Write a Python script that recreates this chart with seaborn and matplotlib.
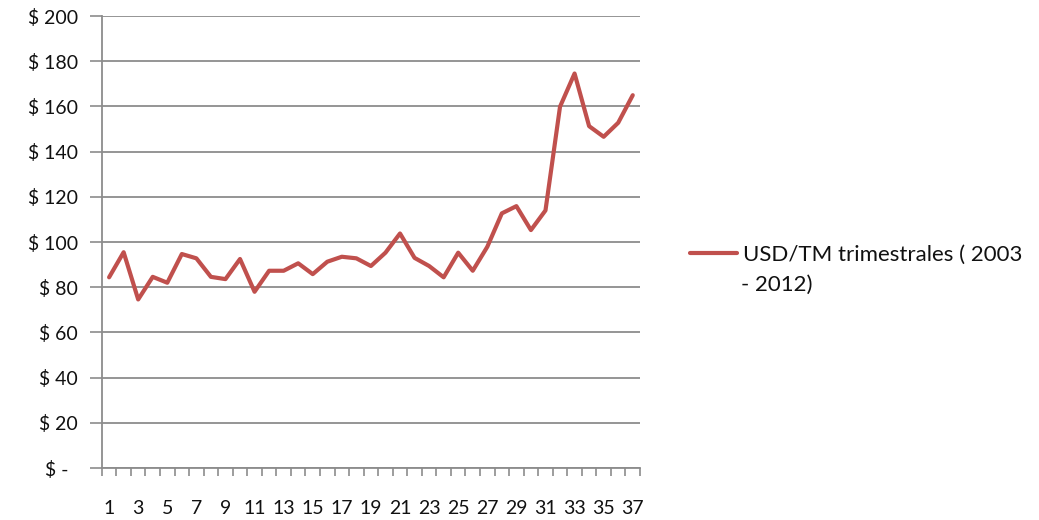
import matplotlib
matplotlib.use("Agg")
import matplotlib.pyplot as plt
import seaborn as sns
import numpy as np
from matplotlib.ticker import FixedLocator, FuncFormatter

# quarterly price, USD per metric ton (2003 - 2012)
quarters = list(range(1, 38))
prices = [84.4, 95.5, 74.6, 84.6, 82.0, 94.7, 92.8, 84.6, 83.6, 92.5,
          78.0, 87.3, 87.3, 90.6, 85.8, 91.3, 93.5, 92.8, 89.4, 95.3,
          103.8, 93.0, 89.4, 84.4, 95.3, 87.3, 97.9, 112.7, 115.9, 105.3,
          114.0, 159.9, 174.6, 151.3, 146.6, 152.8, 165.0]
y_ticks = list(range(0, 201, 20))
series_label = "USD/TM trimestrales ( 2003"
series_label_2 = "- 2012)"

sns.set_theme(style="white")
plt.rcParams['font.family'] = ['Lato', 'DejaVu Sans']

line_color = "#C0504D"
grid_color = "#8C8C8C"
text_color = "#111111"

fig = plt.figure(figsize=(10.39, 5.2), dpi=100)
ax = fig.add_axes([0.098, 0.1, 0.518, 0.869])

sns.lineplot(x=quarters, y=prices, ax=ax, color=line_color, linewidth=3.0,
             label=series_label, legend=False)

ax.set_xlim(0.5, 37.5)
ax.set_ylim(0, 200)

ax.yaxis.set_major_locator(FixedLocator(y_ticks))
ax.yaxis.set_major_formatter(FuncFormatter(lambda v, p: "$ -  " if v == 0 else f"$ {int(v)}"))
ax.grid(axis="y", color=grid_color, linewidth=1.3)
ax.set_axisbelow(True)

# labels on odd quarters, tick marks between categories
ax.xaxis.set_major_locator(FixedLocator(quarters[::2]))
ax.xaxis.set_minor_locator(FixedLocator(np.arange(0.5, 38, 1)))
ax.tick_params(which="both", left=True, bottom=True)
ax.tick_params(axis="x", which="major", length=0, pad=23, labelsize=14)
ax.tick_params(axis="x", which="minor", length=6, width=1.2, color=grid_color, direction="out")
ax.tick_params(axis="y", which="major", length=9, width=1.2, color=grid_color, pad=8,
               labelsize=14, direction="out")
ax.tick_params(axis="both", labelcolor=text_color)

for side in ["top", "right"]:
    ax.spines[side].set_visible(False)
for side in ["left", "bottom"]:
    ax.spines[side].set_color(grid_color)
    ax.spines[side].set_linewidth(1.3)

leg = fig.legend(loc="center left", bbox_to_anchor=(0.645, 0.51), frameon=False,
                 fontsize=16, handlelength=2.1, handletextpad=0.3)
for t in leg.get_texts():
    t.set_color(text_color)
fig.text(0.713, 0.452, series_label_2, fontsize=16, color=text_color, va="center")

fig.savefig("out.png", dpi=100)
